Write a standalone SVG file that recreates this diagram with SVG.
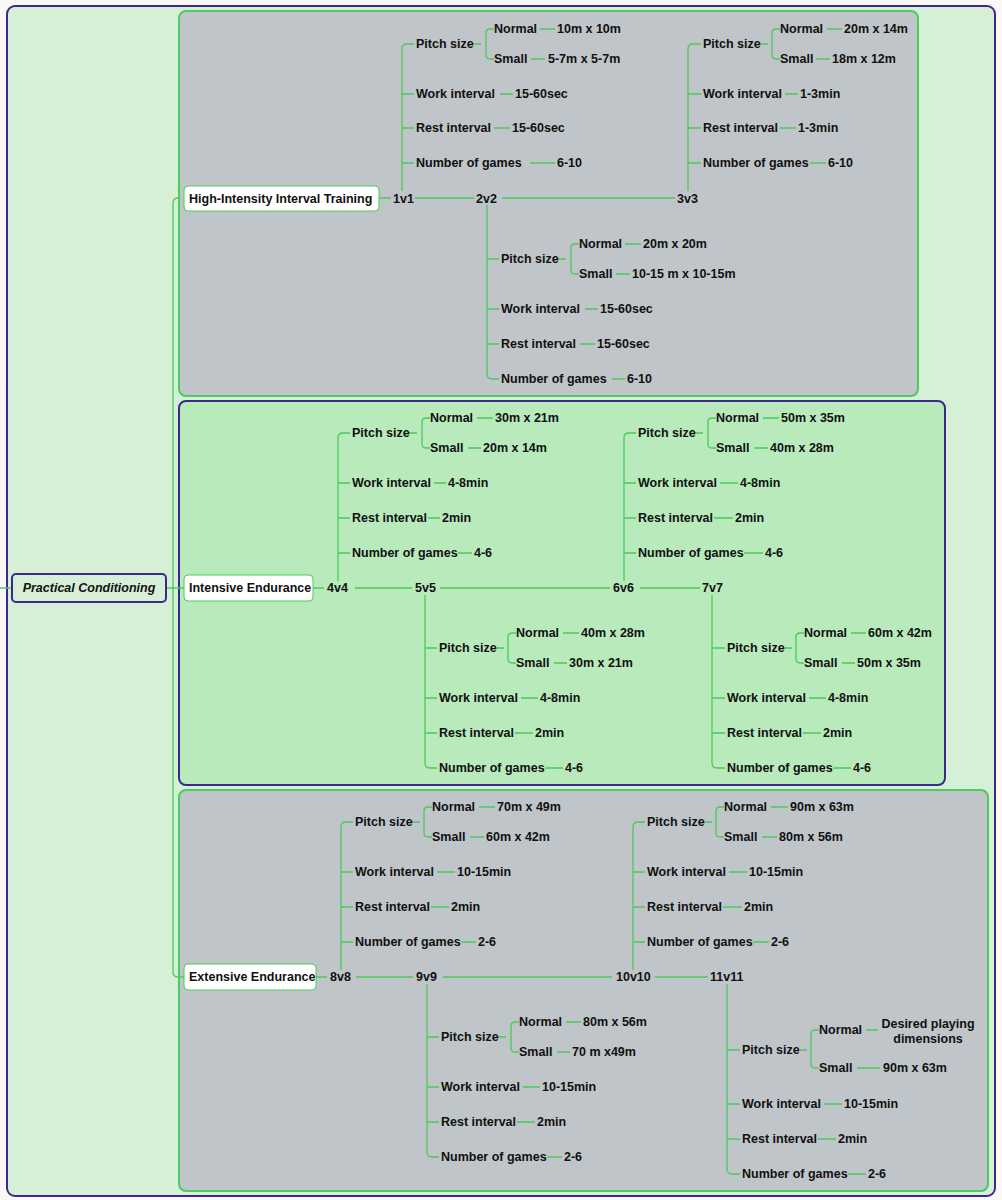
<svg xmlns="http://www.w3.org/2000/svg" width="1002" height="1200" viewBox="0 0 1002 1200">
<style>
text{font-family:"Liberation Sans","DejaVu Sans",sans-serif;font-weight:bold;font-size:12.5px;fill:#111;dominant-baseline:central}
.c path,.c line{stroke:#4cc95a;stroke-width:1.3;fill:none}
</style>
<rect x="0" y="0" width="1002" height="1200" fill="#fbf7f7"/>
<rect x="7" y="6" width="988" height="1190" rx="8" fill="#d6f0d8" stroke="#3b2a8a" stroke-width="2"/>
<rect x="179" y="11" width="739" height="385" rx="7" fill="#bfc5c8" stroke="#4ccc5a" stroke-width="2"/>
<rect x="179" y="401" width="766" height="384" rx="7" fill="#b8eabb" stroke="#3b2a8a" stroke-width="2"/>
<rect x="179" y="790" width="809" height="401" rx="7" fill="#bfc5c8" stroke="#4ccc5a" stroke-width="2"/>
<g class="c" id="connectors">
<path d="M0 588H12M166 588H173M179 198H178Q173 198 173 203V972Q173 977 178 977H184M173 588H184"/>
<path d="M379 198H391M415 198H474M502 198H675"/>
<path d="M313 588H324M355 588H412M440 588H610M640 588H700"/>
<path d="M316 977H327M356 977H413M443 977H612M655 977H708"/>
<path d="M402 191V49Q402 44 407 44H414M402 94H414M402 128H414M402 163H414"/>
<path d="M473 44H481M494 29H490Q486 29 486 33V55Q486 59 490 59H494"/>
<path d="M540 29H555M531 59H545M500 94H513M494 128H510M530 163H555"/>
<path d="M688 191V49Q688 44 693 44H701M688 94H701M688 128H701M688 163H701"/>
<path d="M760 44H768M780 29H776Q772 29 772 33V55Q772 59 776 59H780"/>
<path d="M827 29H842M816 59H830M785 94H798M780 128H796M810 163H826"/>
<path d="M487 205V374Q487 379 492 379H499M487 259H499M487 309H499M487 344H499"/>
<path d="M558 259H566M579 244H575Q571 244 571 248V270Q571 274 575 274H579"/>
<path d="M625 244H641M616 274H630M585 309H598M580 344H595M612 379H625"/>
<path d="M338 581V438Q338 433 343 433H350M338 483H350M338 518H350M338 553H350"/>
<path d="M409 433H417M430 418H426Q422 418 422 422V444Q422 448 426 448H430"/>
<path d="M477 418H493M468 448H481M434 483H446M428 518H440M458 553H472"/>
<path d="M624 581V438Q624 433 629 433H636M624 483H636M624 518H636M624 553H636"/>
<path d="M695 433H703M716 418H712Q708 418 708 422V444Q708 448 712 448H716"/>
<path d="M763 418H779M754 448H768M720 483H738M714 518H733M744 553H763"/>
<path d="M425 595V763Q425 768 430 768H437M425 648H437M425 698H437M425 733H437"/>
<path d="M496 648H504M516 633H512Q508 633 508 637V659Q508 663 512 663H516"/>
<path d="M563 633H579M554 663H567M521 698H538M515 733H533M545 768H563"/>
<path d="M712 595V763Q712 768 717 768H725M712 648H725M712 698H725M712 733H725"/>
<path d="M784 648H792M804 633H800Q796 633 796 637V659Q796 663 800 663H804"/>
<path d="M851 633H866M842 663H855M809 698H826M803 733H821M833 768H851"/>
<path d="M341 970V827Q341 822 346 822H353M341 872H353M341 907H353M341 942H353"/>
<path d="M412 822H420M432 807H428Q424 807 424 811V833Q424 837 428 837H432"/>
<path d="M479 807H495M470 837H484M437 872H455M431 907H449M461 942H476"/>
<path d="M633 970V827Q633 822 638 822H645M633 872H645M633 907H645M633 942H645"/>
<path d="M704 822H712M724 807H720Q716 807 716 811V833Q716 837 720 837H724"/>
<path d="M771 807H788M762 837H777M729 872H747M723 907H742M753 942H769"/>
<path d="M427 984V1152Q427 1157 432 1157H439M427 1037H439M427 1087H439M427 1122H439"/>
<path d="M498 1037H506M519 1022H515Q511 1022 511 1026V1048Q511 1052 515 1052H519"/>
<path d="M566 1022H581M557 1052H570M523 1087H540M517 1122H535M547 1157H562"/>
<path d="M727 984V1169Q727 1174 732 1174H740M727 1050H740M727 1104H740M727 1139H740"/>
<path d="M800 1050H807M819 1030H815Q811 1030 811 1034V1064Q811 1068 815 1068H819"/>
<path d="M866 1030H878M857 1068H880M824 1104H842M818 1139H836M848 1174H866"/>
</g>
<g id="root"><rect x="12" y="574" width="154" height="28" rx="4" fill="#d6f0d8" stroke="#3b2a8a" stroke-width="2"/><text x="89" y="588" text-anchor="middle" font-style="italic">Practical Conditioning</text></g>
<g id="hiit"><rect x="184" y="186" width="195" height="25" rx="4" fill="#fff" stroke="#4ccc5a"/><text x="189" y="198.5">High-Intensity Interval Training</text></g>
<g id="intensive"><rect x="184" y="575" width="129" height="26" rx="4" fill="#fff" stroke="#4ccc5a"/><text x="189" y="588">Intensive Endurance</text></g>
<g id="extensive"><rect x="184" y="964" width="132" height="26" rx="4" fill="#fff" stroke="#4ccc5a"/><text x="189" y="977">Extensive Endurance</text></g>
<g id="games">
<text x="393" y="198.5">1v1</text><text x="476" y="198.5">2v2</text><text x="677" y="198.5">3v3</text>
<text x="327" y="588">4v4</text><text x="415" y="588">5v5</text><text x="613" y="588">6v6</text><text x="702" y="588">7v7</text>
<text x="330" y="977">8v8</text><text x="416" y="977">9v9</text><text x="616" y="977">10v10</text><text x="710" y="977">11v11</text>
</g>
<g id="g1v1">
<text x="416" y="44">Pitch size</text><text x="494" y="29">Normal</text><text x="557" y="29">10m x 10m</text><text x="494" y="59">Small</text><text x="548" y="59">5-7m x 5-7m</text>
<text x="416" y="94">Work interval</text><text x="515" y="94">15-60sec</text><text x="416" y="128">Rest interval</text><text x="512" y="128">15-60sec</text><text x="416" y="163">Number of games</text><text x="557" y="163">6-10</text>
</g>
<g id="g3v3">
<text x="703" y="44">Pitch size</text><text x="780" y="29">Normal</text><text x="844" y="29">20m x 14m</text><text x="780" y="59">Small</text><text x="832" y="59">18m x 12m</text>
<text x="703" y="94">Work interval</text><text x="800" y="94">1-3min</text><text x="703" y="128">Rest interval</text><text x="798" y="128">1-3min</text><text x="703" y="163">Number of games</text><text x="828" y="163">6-10</text>
</g>
<g id="g2v2">
<text x="501" y="259">Pitch size</text><text x="579" y="244">Normal</text><text x="643" y="244">20m x 20m</text><text x="579" y="274">Small</text><text x="632" y="274">10-15 m x 10-15m</text>
<text x="501" y="309">Work interval</text><text x="600" y="309">15-60sec</text><text x="501" y="344">Rest interval</text><text x="597" y="344">15-60sec</text><text x="501" y="379">Number of games</text><text x="627" y="379">6-10</text>
</g>
<g id="g4v4">
<text x="352" y="433">Pitch size</text><text x="430" y="418">Normal</text><text x="495" y="418">30m x 21m</text><text x="430" y="448">Small</text><text x="483" y="448">20m x 14m</text>
<text x="352" y="483">Work interval</text><text x="448" y="483">4-8min</text><text x="352" y="518">Rest interval</text><text x="442" y="518">2min</text><text x="352" y="553">Number of games</text><text x="474" y="553">4-6</text>
</g>
<g id="g6v6">
<text x="638" y="433">Pitch size</text><text x="716" y="418">Normal</text><text x="781" y="418">50m x 35m</text><text x="716" y="448">Small</text><text x="770" y="448">40m x 28m</text>
<text x="638" y="483">Work interval</text><text x="740" y="483">4-8min</text><text x="638" y="518">Rest interval</text><text x="735" y="518">2min</text><text x="638" y="553">Number of games</text><text x="765" y="553">4-6</text>
</g>
<g id="g5v5">
<text x="439" y="648">Pitch size</text><text x="516" y="633">Normal</text><text x="581" y="633">40m x 28m</text><text x="516" y="663">Small</text><text x="569" y="663">30m x 21m</text>
<text x="439" y="698">Work interval</text><text x="540" y="698">4-8min</text><text x="439" y="733">Rest interval</text><text x="535" y="733">2min</text><text x="439" y="768">Number of games</text><text x="565" y="768">4-6</text>
</g>
<g id="g7v7">
<text x="727" y="648">Pitch size</text><text x="804" y="633">Normal</text><text x="868" y="633">60m x 42m</text><text x="804" y="663">Small</text><text x="857" y="663">50m x 35m</text>
<text x="727" y="698">Work interval</text><text x="828" y="698">4-8min</text><text x="727" y="733">Rest interval</text><text x="823" y="733">2min</text><text x="727" y="768">Number of games</text><text x="853" y="768">4-6</text>
</g>
<g id="g8v8">
<text x="355" y="822">Pitch size</text><text x="432" y="807">Normal</text><text x="497" y="807">70m x 49m</text><text x="432" y="837">Small</text><text x="486" y="837">60m x 42m</text>
<text x="355" y="872">Work interval</text><text x="457" y="872">10-15min</text><text x="355" y="907">Rest interval</text><text x="451" y="907">2min</text><text x="355" y="942">Number of games</text><text x="478" y="942">2-6</text>
</g>
<g id="g10v10">
<text x="647" y="822">Pitch size</text><text x="724" y="807">Normal</text><text x="790" y="807">90m x 63m</text><text x="724" y="837">Small</text><text x="779" y="837">80m x 56m</text>
<text x="647" y="872">Work interval</text><text x="749" y="872">10-15min</text><text x="647" y="907">Rest interval</text><text x="744" y="907">2min</text><text x="647" y="942">Number of games</text><text x="771" y="942">2-6</text>
</g>
<g id="g9v9">
<text x="441" y="1037">Pitch size</text><text x="519" y="1022">Normal</text><text x="583" y="1022">80m x 56m</text><text x="519" y="1052">Small</text><text x="572" y="1052">70 m x49m</text>
<text x="441" y="1087">Work interval</text><text x="542" y="1087">10-15min</text><text x="441" y="1122">Rest interval</text><text x="537" y="1122">2min</text><text x="441" y="1157">Number of games</text><text x="564" y="1157">2-6</text>
</g>
<g id="g11v11">
<text x="742" y="1050">Pitch size</text><text x="819" y="1030">Normal</text><text x="928" y="1024" text-anchor="middle">Desired playing</text><text x="928" y="1039" text-anchor="middle">dimensions</text><text x="819" y="1068">Small</text><text x="883" y="1068">90m x 63m</text>
<text x="742" y="1104">Work interval</text><text x="844" y="1104">10-15min</text><text x="742" y="1139">Rest interval</text><text x="838" y="1139">2min</text><text x="742" y="1174">Number of games</text><text x="868" y="1174">2-6</text>
</g>
</svg>
